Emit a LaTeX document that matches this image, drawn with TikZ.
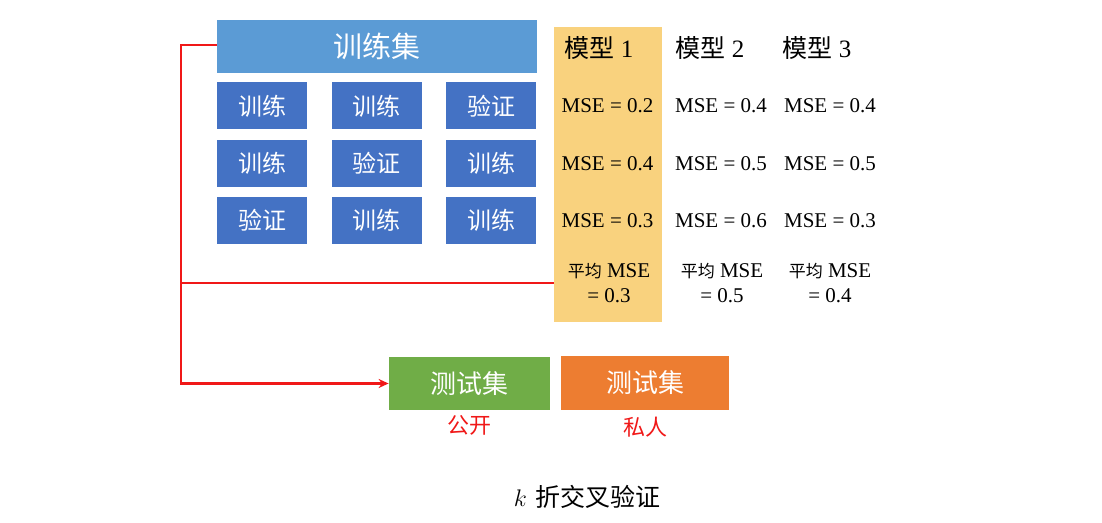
\documentclass[tikz,border=0pt]{standalone}
\usepackage{fontspec}
\usepackage{xcolor}
\usepackage{tikz}
\usetikzlibrary{positioning, arrows.meta}
\newfontfamily\cjk{Noto Sans CJK SC}
\newfontfamily\msefont{Liberation Serif}
\definecolor{SetBlue}{HTML}{5B9BD5}
\definecolor{FoldBlue}{HTML}{4472C4}
\definecolor{PubGreen}{HTML}{70AD47}
\definecolor{PrivOrange}{HTML}{ED7D31}
\definecolor{BestYellow}{HTML}{F9D27E}
\definecolor{LinkRed}{HTML}{F01818}

\begin{document}
\begin{tikzpicture}[
  x=0.5pt, y=-0.5pt,
  fold/.style={fill=FoldBlue, text=white, minimum width=45pt, minimum height=23.5pt, inner sep=0pt, font=\cjk\fontsize{12}{14}\selectfont},
  testbox/.style={text=white, minimum height=26.5pt, inner sep=0pt, font=\cjk\fontsize{13}{15}\selectfont},
  score/.style={font=\msefont\fontsize{10.5}{12}\selectfont, inner sep=0pt},
  head/.style={font=\msefont\fontsize{12.5}{14}\selectfont, inner sep=0pt},
  avg/.style={font=\msefont\fontsize{10.5}{12.5}\selectfont, align=center, inner sep=0pt},
  tag/.style={text=LinkRed, font=\cjk\fontsize{11}{13}\selectfont, inner sep=0pt},
  redline/.style={draw=LinkRed, line width=1.4pt},
  every node/.style={anchor=center}
]
\useasboundingbox (0,0) rectangle (1102,523);
% training set and folds
\node[fill=SetBlue, text=white, minimum width=160pt, minimum height=26.5pt, inner sep=0pt,
  font=\cjk\fontsize{14.5}{16}\selectfont] (train) at (377,46.5) {训练集};
\node[fold] (f11) at (262,106) {训练};
\node[fold] (f12) at (376.5,106) {训练};
\node[fold] (f13) at (491,106) {验证};
\node[fold] (f21) at (262,163.5) {训练};
\node[fold] (f22) at (376.5,163.5) {验证};
\node[fold] (f23) at (491,163.5) {训练};
\node[fold] (f31) at (262,220.5) {验证};
\node[fold] (f32) at (376.5,220.5) {训练};
\node[fold] (f33) at (491,220.5) {训练};
% best model column
\node[fill=BestYellow, minimum width=54pt, minimum height=147.5pt, inner sep=0pt] (best) at (608,174.5) {};
\node[head] (m1) at (599,48) {{\cjk 模型} 1};
\node[head] (m2) at (710,48) {{\cjk 模型} 2};
\node[head] (m3) at (817,48) {{\cjk 模型} 3};
\node[score] (s11) at (607.5,106) {MSE = 0.2};
\node[score] (s12) at (721,106) {MSE = 0.4};
\node[score] (s13) at (830,106) {MSE = 0.4};
\node[score] (s21) at (607.5,163.5) {MSE = 0.4};
\node[score] (s22) at (721,163.5) {MSE = 0.5};
\node[score] (s23) at (830,163.5) {MSE = 0.5};
\node[score] (s31) at (607.5,221) {MSE = 0.3};
\node[score] (s32) at (721,221) {MSE = 0.6};
\node[score] (s33) at (830,221) {MSE = 0.3};
\node[avg] (a1) at (609,283) {{\cjk\fontsize{8.5}{12.5}\selectfont 平均} MSE\\= 0.3};
\node[avg] (a2) at (722,283) {{\cjk\fontsize{8.5}{12.5}\selectfont 平均} MSE\\= 0.5};
\node[avg] (a3) at (830,283) {{\cjk\fontsize{8.5}{12.5}\selectfont 平均} MSE\\= 0.4};
% test sets
\node[testbox, fill=PubGreen, minimum width=80.5pt] (pub) at (469.5,383.5) {测试集};
\node[testbox, fill=PrivOrange, minimum width=84pt] (priv) at (645,383) {测试集};
\node[tag, below=2.5pt of pub] (publab) {公开};
\node[tag, below=3.5pt of priv] (privlab) {私人};
\node[font=\fontsize{12.5}{14}\selectfont, inner sep=0pt] (cap) at (587,497) {$k$ {\cjk 折交叉验证}};
% red connectors
\coordinate (bend) at (181,45);
\draw[redline, -{Stealth[length=5pt, width=4.5pt]}] (train.west |- bend) -- (bend) |- (pub.west);
\draw[redline] (best.west |- a1) -- (bend |- a1);
\end{tikzpicture}
\end{document}
